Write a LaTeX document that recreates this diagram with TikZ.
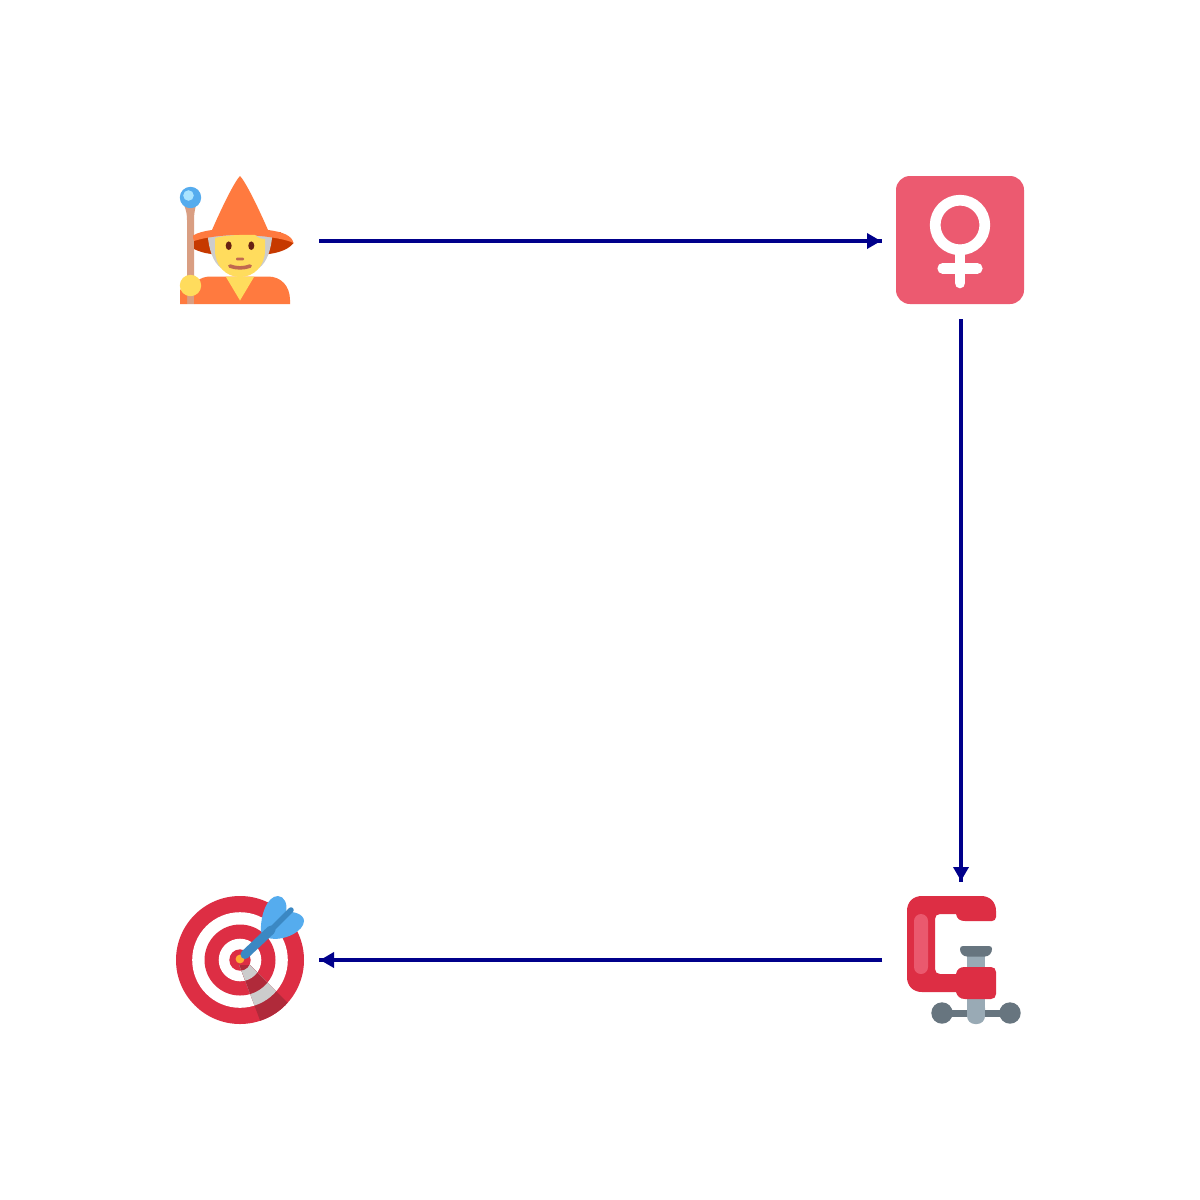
\documentclass[tikz,border=0pt]{standalone}
\usetikzlibrary{arrows.meta}
\definecolor{linkc}{HTML}{00008B}
\definecolor{hat}{HTML}{FF7A3F}
\definecolor{hatd}{HTML}{C63900}
\definecolor{skin}{HTML}{FFDC5D}
\definecolor{mouth}{HTML}{C1694F}
\definecolor{eye}{HTML}{662113}
\definecolor{hairg}{HTML}{CCCCCC}
\definecolor{staff}{HTML}{D99E82}
\definecolor{orb}{HTML}{55ACEE}
\definecolor{orbl}{HTML}{AAE4FF}
\definecolor{roseb}{HTML}{EC5A70}
\definecolor{redt}{HTML}{DD2E44}
\definecolor{redd}{HTML}{B02A3A}
\definecolor{redl}{HTML}{EA596E}
\definecolor{dartb}{HTML}{3B88C3}
\definecolor{tip}{HTML}{FFAC33}
\definecolor{steel}{HTML}{67757F}
\definecolor{steell}{HTML}{99AAB5}
\tikzset{
  linkline/.style={draw=linkc,line width=4pt},
  linkhead/.style={draw=linkc,line width=4pt,shorten >=1pt,-{Triangle[length=14pt,width=15pt]}}
}
\begin{document}
\begin{tikzpicture}[x=1pt,y=-1pt,line join=round]
\useasboundingbox (0,0) rectangle (1200,1200);
\fill[white] (0,0) rectangle (1200,1200);
% anchors
\coordinate (wizStart) at (319,241);
\coordinate (venusEnd) at (882,241);
\coordinate (venusStart) at (961,319);
\coordinate (clampEnd) at (961,882);
\coordinate (clampStart) at (882,960);
\coordinate (targetEnd) at (319,960);
% wizard
\fill[staff] (184,205) -- (196,205) .. controls (194.5,211) and (194,215) .. (194,220) -- (194,304) -- (187,304) -- (187,220) .. controls (187,215) and (186.5,211) .. (184,205) -- cycle;
\fill[orb] (190.5,197.5) circle (10.7);
\fill[orbl] (188.5,195.5) circle (5.3);
\fill[hat] (180,304) -- (180,290) -- (187,285) -- (187,304) -- cycle;
\fill[hat] (194,304) -- (194,284) -- (197,281) .. controls (201,278) and (205,276.5) .. (211,276.5) -- (268,276.5) .. controls (281,276.5) and (290,286) .. (290,300) -- (290,304) -- cycle;
\fill[hatd] (194,238) -- (194,249) .. controls (199,251.5) and (204,253) .. (211,254) -- (269,254) .. controls (280,252.5) and (289,249) .. (293.5,243) -- (280,232) -- (205,232) -- cycle;
\fill[hairg] (207.5,234) .. controls (209,250) and (213,262) .. (221,268) -- (259,268) .. controls (267,262) and (271,250) .. (272.5,234) -- cycle;
\fill[hat] (240,176) .. controls (244,180) and (254,198) .. (268,230) .. controls (284,232) and (292,236) .. (293.5,243) .. controls (286,239) and (262,235) .. (240,235) .. controls (224,235) and (206,237) .. (194,241) .. controls (193,239) and (193,237) .. (193,235.5) .. controls (197,233) and (204,231) .. (212,230) .. controls (226,198) and (236,180) .. (240,176) -- cycle;
\fill[skin] (215,238) .. controls (225,235) and (245,234.5) .. (255,235) .. controls (258,238) and (262,239) .. (265,239) -- (265,250) .. controls (265,266) and (254,277) .. (240,277) .. controls (226,277) and (215,266) .. (215,250) -- cycle;
\fill[skin] (225.7,276.5) -- (254.3,276.5) -- (240,300.5) -- cycle;
\fill[skin] (190.5,285.5) circle (10.7);
\fill[eye] (228.7,245.7) ellipse (3 and 4.3);
\fill[eye] (251.3,245.7) ellipse (3 and 4.3);
\fill[mouth,rounded corners=1pt] (236,257.5) rectangle (244,260.3);
\draw[mouth,line width=3.6pt,line cap=round] (229.8,266) .. controls (236,268.5) and (244,268.5) .. (250.2,266);
% venus
\fill[roseb,rounded corners=14pt] (896,176) rectangle (1024,304);
\draw[white,line width=10.7pt] (960,225) circle (24.8);
\draw[white,line width=10.7pt,line cap=round] (960,250) -- (960,283);
\draw[white,line width=10.4pt,line cap=round] (942.6,268.3) -- (977.4,268.3);
% target
\fill[redt] (240,960) circle (64);
\fill[white] (240,960) circle (47.8);
\fill[redt] (240,960) circle (35.5);
\fill[white] (240,960) circle (21.3);
\fill[redt] (240,960) circle (10.7);
\begin{scope}
\clip (239.3,965) -- (264,1031) -- (300,1015) -- (250,965) -- cycle;
\fill[redd] (240,960) circle (64);
\fill[hairg] (240,960) circle (47.8);
\fill[redd] (240,960) circle (35.5);
\fill[hairg] (240,960) circle (21.3);
\fill[redd] (240,960) circle (10.7);
\end{scope}
\fill[orb] (261,932) .. controls (260,916) and (267,896) .. (278,896) .. controls (284,896) and (288,904) .. (286,912) .. controls (293,911) and (304,914) .. (304,921) .. controls (304,931) and (284,942) .. (268,938) -- cycle;
\fill[tip] (240,959) circle (4.4);
\draw[dartb,line width=9pt,line cap=round] (245,954.5) -- (271,930);
\draw[dartb,line width=5.5pt,line cap=round] (265,936) -- (291,910);
% clamp
\fill[steell] (967,950) rectangle (985,1012);
\fill[steell,rounded corners=8pt] (967,1000) rectangle (985,1024);
\fill[steel] (960,949) .. controls (960,947) and (961,946) .. (963,946) -- (989,946) .. controls (991,946) and (992,947) .. (992,949) .. controls (992,953) and (989,956.5) .. (985,956.5) -- (967,956.5) .. controls (963,956.5) and (960,953) .. (960,949) -- cycle;
\fill[steel] (942,1010) rectangle (967,1016.5);
\fill[steel] (985,1010) rectangle (1010,1016.5);
\fill[steel] (942,1013) circle (10.7);
\fill[steel] (1010,1013) circle (10.7);
\fill[redt] (922,896) -- (981,896) .. controls (990,896) and (996,902) .. (996,911) -- (996,917) .. controls (996,919.5) and (994,921) .. (992,921) -- (965,921) .. controls (960,921) and (957,919) .. (956,914) -- (940,914) .. controls (937,914) and (935,916) .. (935,919) -- (935,969) .. controls (935,972) and (937,974) .. (940,974) -- (956,974) .. controls (957,969) and (960,967) .. (965,967) -- (991,967) .. controls (994,967) and (996,969) .. (996,972) -- (996,994) .. controls (996,997) and (994,999) .. (991,999) -- (965,999) .. controls (960,999) and (957,996) .. (956,992) -- (922,992) .. controls (913,992) and (907,986) .. (907,977) -- (907,911) .. controls (907,902) and (913,896) .. (922,896) -- cycle;
\fill[redl,rounded corners=7pt] (914,914) rectangle (928,974);
% connectors
\draw[linkline] (wizStart) -- (venusEnd);
\draw[linkhead] (wizStart) -- (venusEnd);
\draw[linkline] (venusStart) -- (clampEnd);
\draw[linkhead] (venusStart) -- (clampEnd);
\draw[linkline] (clampStart) -- (targetEnd);
\draw[linkhead] (clampStart) -- (targetEnd);
\end{tikzpicture}
\end{document}
